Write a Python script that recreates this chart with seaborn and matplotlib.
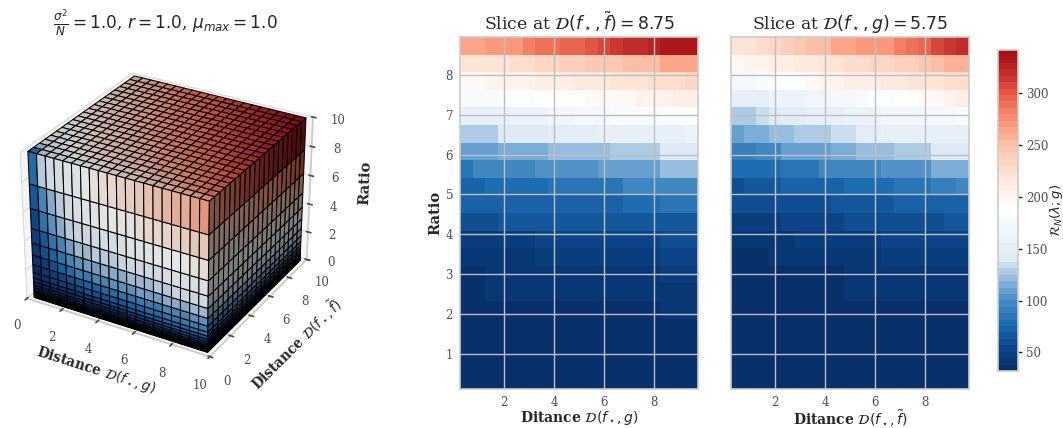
import numpy as np
import matplotlib
matplotlib.use('Agg')
import matplotlib.pyplot as plt
from matplotlib.colors import LinearSegmentedColormap, Normalize
import seaborn as sns

# cell edges of the cube
x_edges = [0.25, 0.72, 1.2, 1.67, 2.15, 2.62, 3.1, 3.57, 4.05, 4.52, 5.0, 5.47, 5.95, 6.42, 6.9, 7.37, 7.85, 8.32, 8.8, 9.27, 9.75]
y_edges = [0.25, 0.72, 1.2, 1.67, 2.15, 2.62, 3.1, 3.57, 4.05, 4.52, 5.0, 5.47, 5.95, 6.42, 6.9, 7.37, 7.85, 8.32, 8.8, 9.27, 9.75]
z_edges = [0, .04, .08, .13, .19, .26, .35, .45, .57, .72, .9, 1.12, 1.39, 1.8, 2.33, 3.0, 3.83, 4.85, 6.2, 7.85, 10]

# top of the cube, front row first
top_vals = [
    [85, 135, 150, 160, 170, 180, 188, 195, 203, 211, 218, 224, 230, 236, 241, 246, 250, 254, 258, 262],
    [130, 150, 165, 178, 188, 196, 204, 211, 218, 224, 230, 236, 241, 247, 253, 259, 265, 271, 277, 283],
    [150, 165, 178, 190, 199, 207, 214, 221, 227, 233, 239, 244, 250, 256, 261, 267, 273, 278, 284, 290],
    [162, 176, 188, 198, 206, 214, 221, 228, 234, 240, 245, 251, 256, 262, 267, 273, 278, 284, 289, 295],
    [172, 185, 196, 205, 213, 220, 227, 234, 240, 246, 251, 257, 262, 267, 272, 278, 283, 288, 294, 299],
    [180, 192, 202, 211, 219, 226, 233, 239, 245, 251, 256, 262, 267, 272, 277, 282, 287, 292, 298, 303],
    [187, 198, 208, 217, 224, 231, 238, 244, 250, 256, 261, 266, 271, 276, 281, 286, 291, 296, 302, 307],
    [193, 204, 214, 222, 229, 236, 243, 249, 254, 260, 265, 270, 275, 280, 285, 290, 295, 300, 305, 310],
    [199, 210, 219, 227, 234, 241, 247, 253, 258, 264, 269, 274, 279, 284, 289, 294, 298, 303, 308, 313],
    [204, 215, 223, 231, 238, 245, 251, 257, 262, 268, 273, 278, 283, 287, 292, 297, 301, 306, 311, 316],
    [209, 219, 227, 235, 242, 249, 255, 261, 266, 271, 276, 281, 286, 290, 295, 300, 304, 309, 314, 319],
    [214, 223, 231, 239, 246, 252, 258, 264, 269, 274, 279, 284, 289, 293, 298, 303, 307, 312, 317, 322],
    [218, 227, 235, 243, 249, 255, 261, 267, 272, 277, 282, 287, 292, 296, 301, 306, 310, 315, 319, 324],
    [222, 231, 239, 246, 252, 258, 264, 270, 275, 280, 285, 290, 295, 299, 304, 308, 313, 317, 322, 327],
    [226, 235, 242, 249, 255, 261, 267, 273, 278, 283, 288, 293, 297, 302, 306, 311, 315, 320, 324, 329],
    [230, 238, 245, 252, 258, 264, 270, 276, 281, 286, 291, 295, 300, 304, 309, 313, 318, 322, 327, 331],
    [234, 241, 248, 255, 261, 267, 273, 279, 284, 289, 293, 298, 302, 307, 311, 316, 320, 325, 329, 334],
    [238, 244, 251, 258, 264, 270, 276, 282, 286, 291, 296, 300, 305, 309, 314, 318, 323, 327, 332, 337],
    [242, 248, 254, 261, 267, 273, 279, 284, 289, 294, 298, 303, 307, 312, 316, 321, 325, 330, 335, 340],
    [246, 252, 258, 264, 270, 276, 282, 287, 292, 297, 301, 306, 310, 315, 319, 324, 328, 333, 338, 342],
]
# front face, bottom band first
front_vals = [
    [33, 33, 33, 33, 33, 33, 33, 33, 33, 33, 33, 34, 34, 34, 34, 35, 35, 35, 36, 36],
    [33, 33, 33, 33, 33, 33, 33, 33, 34, 34, 34, 34, 34, 35, 35, 35, 36, 36, 36, 37],
    [33, 33, 33, 33, 33, 33, 34, 34, 34, 34, 34, 35, 35, 35, 35, 36, 36, 36, 37, 37],
    [33, 33, 33, 33, 33, 34, 34, 34, 34, 34, 35, 35, 35, 35, 36, 36, 36, 37, 37, 38],
    [33, 33, 33, 33, 34, 34, 34, 34, 34, 35, 35, 35, 35, 36, 36, 36, 37, 37, 38, 39],
    [33, 33, 33, 34, 34, 34, 34, 35, 35, 35, 35, 36, 36, 37, 37, 38, 38, 39, 40, 41],
    [33, 33, 34, 34, 34, 34, 35, 35, 35, 36, 36, 37, 37, 38, 39, 40, 41, 42, 43, 44],
    [33, 34, 34, 35, 35, 35, 36, 36, 37, 37, 38, 38, 39, 40, 41, 42, 44, 45, 47, 48],
    [33, 34, 35, 35, 36, 36, 37, 38, 38, 39, 40, 41, 42, 44, 45, 47, 49, 51, 52, 54],
    [33, 35, 36, 36, 37, 38, 39, 40, 41, 43, 44, 46, 48, 50, 52, 54, 56, 58, 60, 62],
    [33, 36, 38, 40, 41, 42, 44, 45, 47, 49, 50, 52, 54, 56, 58, 60, 63, 66, 69, 72],
    [33, 38, 42, 44, 46, 48, 51, 54, 57, 60, 62, 65, 68, 71, 74, 77, 80, 83, 85, 88],
    [34, 42, 48, 52, 56, 60, 63, 66, 69, 72, 75, 78, 81, 84, 87, 90, 92, 95, 97, 100],
    [36, 46, 55, 62, 68, 75, 78, 81, 84, 87, 90, 92, 95, 97, 100, 102, 104, 106, 109, 112],
    [40, 52, 65, 76, 86, 95, 98, 101, 104, 107, 110, 112, 114, 116, 118, 120, 122, 124, 126, 128],
    [45, 63, 80, 92, 103, 112, 115, 117, 119, 120, 122, 125, 128, 131, 134, 137, 140, 143, 147, 150],
    [52, 75, 92, 105, 116, 125, 129, 132, 135, 137, 140, 144, 148, 151, 154, 157, 160, 163, 167, 170],
    [62, 90, 110, 122, 132, 140, 146, 152, 156, 160, 165, 169, 173, 177, 181, 185, 189, 192, 196, 200],
    [75, 105, 122, 135, 150, 165, 172, 178, 183, 189, 195, 199, 203, 207, 211, 214, 218, 221, 225, 228],
    [85, 135, 150, 160, 170, 180, 188, 195, 203, 211, 218, 224, 230, 236, 241, 246, 250, 254, 258, 262],
]
# right face, bottom band first
right_vals = [
    [36, 36, 37, 37, 38, 38, 39, 39, 40, 40, 41, 41, 42, 42, 43, 43, 44, 44, 45, 45],
    [37, 37, 38, 38, 39, 39, 40, 40, 41, 41, 42, 42, 43, 43, 44, 44, 45, 45, 46, 46],
    [37, 38, 38, 39, 40, 40, 41, 42, 42, 43, 44, 44, 45, 46, 46, 47, 48, 48, 49, 50],
    [38, 39, 40, 41, 42, 42, 43, 44, 45, 46, 47, 48, 48, 49, 50, 51, 52, 53, 54, 55],
    [39, 41, 42, 43, 44, 45, 46, 47, 48, 49, 50, 51, 52, 53, 54, 55, 56, 57, 58, 60],
    [41, 43, 44, 46, 47, 48, 50, 51, 52, 54, 55, 56, 58, 59, 60, 62, 63, 64, 66, 68],
    [44, 46, 48, 50, 51, 53, 55, 56, 58, 60, 61, 63, 65, 66, 68, 70, 71, 73, 75, 77],
    [48, 50, 53, 55, 57, 59, 61, 63, 65, 67, 69, 71, 73, 75, 77, 79, 81, 83, 85, 87],
    [54, 57, 59, 62, 64, 67, 69, 71, 74, 76, 78, 80, 83, 85, 87, 89, 91, 93, 95, 97],
    [62, 65, 68, 71, 74, 76, 79, 81, 84, 86, 88, 90, 92, 94, 96, 98, 100, 102, 103, 105],
    [72, 75, 78, 81, 83, 85, 87, 89, 91, 92, 93, 94, 95, 96, 97, 97, 98, 99, 99, 100],
    [88, 90, 92, 94, 96, 97, 99, 100, 101, 103, 104, 105, 106, 107, 108, 109, 110, 110, 111, 112],
    [100, 102, 104, 105, 107, 108, 110, 111, 112, 114, 115, 116, 117, 118, 119, 120, 121, 122, 123, 125],
    [112, 114, 116, 117, 119, 120, 122, 123, 125, 126, 127, 129, 130, 131, 133, 134, 135, 137, 138, 140],
    [128, 130, 132, 134, 136, 138, 140, 142, 144, 146, 148, 150, 152, 154, 156, 158, 160, 162, 163, 165],
    [150, 153, 156, 158, 161, 163, 165, 168, 170, 172, 175, 177, 180, 182, 184, 186, 188, 190, 192, 195],
    [170, 173, 176, 179, 182, 185, 188, 190, 193, 196, 199, 202, 205, 208, 211, 214, 217, 220, 222, 225],
    [200, 204, 207, 210, 213, 216, 219, 222, 225, 228, 231, 234, 237, 240, 243, 246, 249, 252, 256, 260],
    [228, 232, 236, 240, 243, 246, 250, 253, 256, 259, 263, 266, 269, 273, 277, 281, 285, 289, 294, 300],
    [262, 268, 274, 280, 285, 290, 295, 300, 304, 308, 312, 316, 320, 324, 327, 330, 333, 336, 339, 342],
]

# slice at D(f,f~)=8.75, bottom row first
slice_a = [
    [33, 33, 33, 33, 33, 33, 33, 33, 33, 33, 33, 33, 33, 33, 33, 33, 33, 33, 33],
    [34, 34, 34, 34, 34, 34, 34, 34, 34, 34, 34, 34, 34, 34, 34, 34, 34, 34, 34],
    [35, 35, 35, 35, 35, 35, 35, 35, 35, 35, 35, 35, 35, 35, 35, 35, 35, 35, 35],
    [35, 35, 35, 35, 35, 35, 35, 35, 35, 35, 35, 35, 35, 35, 35, 35, 37, 37, 37],
    [36, 36, 36, 36, 36, 36, 36, 36, 36, 36, 36, 36, 36, 38, 38, 38, 39, 39, 39],
    [36, 36, 40, 40, 40, 40, 40, 40, 40, 40, 40, 40, 40, 43, 43, 43, 43, 43, 43],
    [37, 37, 43, 43, 43, 43, 43, 43, 43, 43, 43, 43, 44, 44, 44, 44, 46, 46, 46],
    [44, 44, 44, 44, 44, 44, 49, 49, 50, 50, 50, 50, 50, 50, 50, 50, 52, 52, 52],
    [50, 50, 50, 50, 50, 50, 54, 54, 56, 56, 56, 56, 56, 56, 56, 56, 60, 60, 60],
    [60, 60, 60, 63, 63, 63, 63, 63, 65, 65, 65, 65, 68, 68, 68, 68, 68, 68, 68],
    [70, 70, 70, 70, 70, 70, 72, 74, 74, 74, 74, 74, 74, 80, 80, 80, 82, 82, 82],
    [72, 72, 78, 78, 78, 78, 78, 87, 87, 87, 87, 87, 87, 97, 97, 97, 97, 97, 97],
    [85, 97, 97, 97, 97, 97, 105, 105, 105, 105, 105, 112, 112, 112, 112, 112, 120, 120, 120],
    [110, 110, 110, 117, 117, 117, 117, 122, 122, 122, 122, 122, 130, 130, 130, 130, 140, 140, 140],
    [127, 127, 127, 140, 140, 140, 140, 147, 147, 148, 148, 150, 150, 152, 152, 153, 155, 155, 158],
    [150, 150, 153, 155, 158, 160, 162, 165, 168, 170, 172, 174, 175, 176, 178, 180, 182, 184, 186],
    [176, 178, 180, 182, 184, 186, 188, 190, 192, 193, 194, 195, 197, 198, 200, 202, 205, 206, 210],
    [198, 198, 200, 202, 203, 204, 206, 208, 210, 212, 214, 216, 218, 220, 222, 225, 228, 230, 232],
    [218, 218, 222, 222, 228, 228, 235, 235, 238, 238, 243, 243, 247, 250, 255, 255, 262, 262, 266],
    [265, 265, 268, 272, 272, 280, 288, 288, 296, 296, 300, 306, 312, 318, 318, 326, 332, 335, 335],
]
# slice at D(f,g)=5.75, bottom row first
slice_b = [
    [33, 33, 33, 33, 33, 33, 33, 33, 33, 33, 33, 33, 33, 33, 33, 33, 33, 33, 33],
    [34, 34, 34, 34, 34, 34, 34, 34, 34, 34, 34, 34, 34, 34, 34, 34, 34, 34, 34],
    [32, 32, 32, 32, 35, 35, 35, 35, 35, 35, 35, 35, 35, 35, 35, 35, 35, 35, 35],
    [32, 32, 32, 34, 34, 34, 35, 35, 35, 35, 35, 35, 35, 35, 35, 35, 35, 35, 35],
    [33, 36, 36, 36, 36, 36, 36, 36, 36, 36, 36, 36, 36, 36, 36, 36, 36, 36, 38],
    [36, 36, 36, 36, 36, 36, 36, 36, 36, 40, 40, 40, 40, 40, 40, 40, 40, 40, 40],
    [36, 36, 36, 36, 36, 36, 36, 36, 36, 40, 40, 40, 40, 42, 42, 42, 42, 42, 42],
    [38, 38, 38, 42, 42, 42, 42, 42, 42, 42, 42, 42, 46, 47, 47, 47, 47, 47, 47],
    [44, 44, 44, 44, 44, 48, 48, 48, 48, 48, 48, 48, 54, 54, 54, 54, 54, 54, 54],
    [50, 50, 50, 50, 56, 56, 56, 56, 55, 60, 60, 60, 60, 62, 62, 62, 60, 68, 68],
    [58, 58, 58, 62, 62, 62, 62, 62, 66, 66, 66, 66, 66, 72, 72, 72, 72, 72, 72],
    [62, 68, 68, 68, 72, 72, 72, 72, 70, 76, 76, 76, 76, 86, 86, 86, 88, 88, 98],
    [78, 78, 78, 76, 85, 85, 85, 97, 97, 97, 97, 97, 105, 105, 105, 105, 115, 115, 115],
    [90, 90, 100, 100, 107, 107, 107, 107, 115, 115, 122, 122, 122, 130, 130, 130, 138, 138, 138],
    [108, 115, 115, 122, 122, 128, 128, 128, 135, 135, 145, 147, 150, 150, 150, 150, 152, 152, 152],
    [125, 130, 132, 140, 146, 148, 150, 152, 155, 157, 158, 160, 163, 165, 168, 170, 172, 174, 176],
    [150, 152, 154, 156, 160, 162, 165, 168, 172, 174, 178, 182, 186, 188, 190, 194, 198, 202, 206],
    [170, 172, 176, 182, 190, 193, 197, 200, 203, 206, 208, 210, 213, 216, 218, 220, 224, 228, 228],
    [198, 200, 204, 207, 211, 213, 216, 220, 224, 226, 228, 232, 236, 240, 242, 244, 250, 256, 260],
    [222, 224, 228, 232, 240, 245, 250, 255, 262, 265, 268, 270, 272, 285, 290, 295, 305, 312, 320],
]

x_ticks = [2, 4, 6, 8]
y_ticks = [1, 2, 3, 4, 5, 6, 7, 8]
cbar_ticks = [50, 100, 150, 200, 250, 300]
VMIN, VMAX = 32, 342

sns.set_theme(style='whitegrid', font='DejaVu Serif', rc={'font.size': 9})

anchors = [(32, '#08306b'), (50, '#0b4285'), (75, '#1c6ab0'), (100, '#4a8fc5'), (115, '#7fafd8'),
           (125, '#a8c8e3'), (131, '#b8d2e9'), (135, '#dbe8f5'), (150, '#e6eff8'), (170, '#f3f8fd'),
           (190, '#ffffff'), (200, '#fff5ef'), (220, '#fee6da'), (250, '#fdc5ae'), (275, '#fc9474'),
           (300, '#e8604a'), (320, '#c53030'), (342, '#a50f15')]
cmap = LinearSegmentedColormap.from_list(
    'blue_red', [((v - VMIN) / (VMAX - VMIN), c) for v, c in anchors], N=50)
norm = Normalize(VMIN, VMAX)


def px_axes(fig, left, top, right, bottom, **kw):
    w, h = fig.get_size_inches() * fig.dpi
    return fig.add_axes([left / w, 1 - bottom / h, (right - left) / w, (bottom - top) / h], **kw)


def face_colors(vals, shade):
    rgba = cmap(norm(np.array(vals, dtype=float)))
    rgba[..., :3] *= shade
    return rgba


def draw_cube(ax):
    kw = dict(rstride=1, cstride=1, shade=False, edgecolor='black', linewidth=0.75, antialiased=True)
    X, Y = np.meshgrid(x_edges, y_edges)
    ax.plot_surface(X, Y, np.full_like(X, z_edges[-1]), facecolors=face_colors(top_vals, 0.8), **kw)
    X, Z = np.meshgrid(x_edges, z_edges)
    ax.plot_surface(X, np.full_like(X, y_edges[0]), Z, facecolors=face_colors(front_vals, 0.9), **kw)
    Y, Z = np.meshgrid(y_edges, z_edges)
    ax.plot_surface(np.full_like(Y, x_edges[-1]), Y, Z, facecolors=face_colors(right_vals, 0.5), **kw)

    ax.view_init(elev=29, azim=-60)
    ax.set_box_aspect((4, 4, 3.15))
    ax.set_xlim(0, 10)
    ax.set_ylim(0, 10)
    ax.set_zlim(0, 10)
    ax.set_xticks([0, 2, 4, 6, 8, 10])
    ax.set_yticks([0, 2, 4, 6, 8, 10])
    ax.set_zticks([0, 2, 4, 6, 8, 10])
    ax.tick_params(labelsize=8.5, colors='.3', pad=3)
    for axis in (ax.xaxis, ax.yaxis, ax.zaxis):
        axis.set_pane_color((0.96, 0.96, 0.96, 1))
        axis._axinfo['grid']['color'] = '.85'
        axis._axinfo['grid']['linewidth'] = 0.8
    ax.set_xlabel(r'Distance $\mathcal{D}(f_\star, g)$', fontweight='bold', fontsize=9.8, labelpad=1)
    ax.set_ylabel(r'Distance $\mathcal{D}(f_\star, \tilde{f})$', fontweight='bold', fontsize=9.8, labelpad=3)
    ax.set_zlabel('Ratio', fontweight='bold', fontsize=10.5, labelpad=4)


def draw_slice(ax, vals, title, xlabel, cbar_ax=None, ylabel=None):
    sns.heatmap(np.array(vals), ax=ax, cmap=cmap, vmin=VMIN, vmax=VMAX, cbar=cbar_ax is not None,
                cbar_ax=cbar_ax, xticklabels=False, yticklabels=False)
    ax.invert_yaxis()
    ax.set_xticks([(v - 0.25) / 0.5 for v in x_ticks])
    ax.set_xticklabels(x_ticks, rotation=0)
    if ylabel:
        ax.set_yticks([(v - 0.12) / 0.4415 for v in y_ticks])
        ax.set_yticklabels(y_ticks, rotation=0)
        ax.set_ylabel(ylabel, fontweight='bold', fontsize=10.5, labelpad=2)
    else:
        ax.set_yticks([(v - 0.12) / 0.4415 for v in y_ticks])
        ax.set_yticklabels([])
    ax.tick_params(length=0, labelsize=8.5, labelcolor='.3', pad=5)
    ax.grid(True, color='.75', linewidth=1.0)
    ax.set_axisbelow(False)
    for side in ax.spines.values():
        side.set_visible(True)
        side.set_color('.8')
        side.set_linewidth(1.2)
    ax.set_title(title, fontsize=12.4, color='.15', pad=6)
    ax.set_xlabel(xlabel, fontweight='bold', fontsize=10, labelpad=0)


fig = plt.figure(figsize=(10.63, 4.28), dpi=100)

ax3d = px_axes(fig, -1, 48, 331, 377, projection='3d')
draw_cube(ax3d)
fig.text(165 / 1063, 1 - 23 / 428, r'$\frac{\sigma^2}{N} = 1.0$, $r = 1.0$, $\mu_{max} = 1.0$',
         ha='center', va='center', fontsize=12.2, color='.15')

ax_a = px_axes(fig, 460, 37, 698, 389)
ax_b = px_axes(fig, 731, 37, 969, 389)
cax = px_axes(fig, 997.5, 50, 1017.5, 371)

draw_slice(ax_a, slice_a, r'Slice at $\mathcal{D}(f_\star, \tilde{f}) = 8.75$',
           r'Ditance $\mathcal{D}(f_\star, g)$', ylabel='Ratio')
draw_slice(ax_b, slice_b, r'Slice at $\mathcal{D}(f_\star, g) = 5.75$',
           r'Ditance $\mathcal{D}(f_\star, \tilde{f})$', cbar_ax=cax)

cbar = ax_b.collections[0].colorbar
cbar.set_ticks(cbar_ticks)
cbar.ax.tick_params(length=3, width=1, labelsize=8.5, labelcolor='.3', color='.15', pad=3)
cbar.set_label(r'$\mathcal{R}_N(\lambda; g)$', fontsize=9.5, color='.15', labelpad=0)
cbar.outline.set_visible(True)
cbar.outline.set_edgecolor('.8')
cbar.outline.set_linewidth(1.2)

fig.savefig('out.png', dpi=100)
